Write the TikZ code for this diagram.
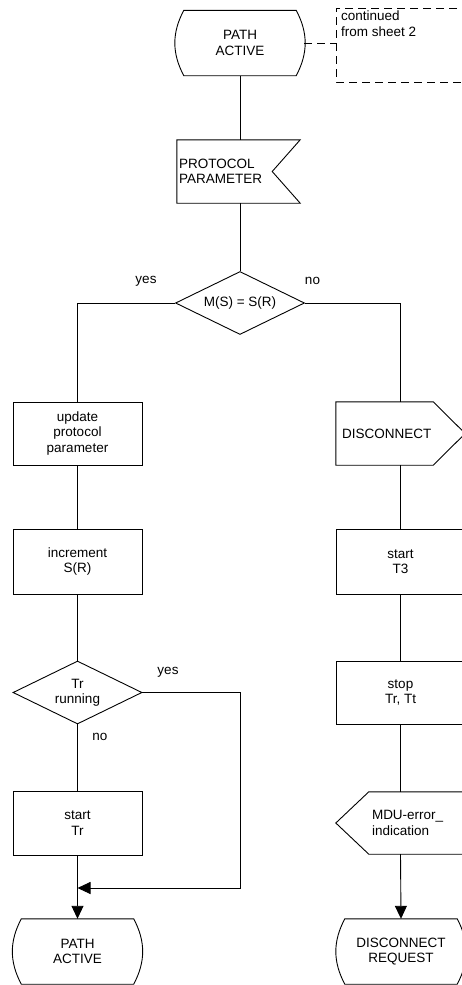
\documentclass[tikz,border=0pt]{standalone}
\usepackage{fontspec}
\setmainfont{Liberation Sans}
\usetikzlibrary{shapes.geometric,arrows.meta,calc}
\newcommand\lbl{\fontsize{13.5pt}{15.5pt}\selectfont}
\newcommand\drawstate[1]{%
  \draw[ln] ($(#1.north west)+(8,0)$) -- ($(#1.north east)+(-8,0)$)
    to[bend left=28] ($(#1.south east)+(-8,0)$) -- ($(#1.south west)+(8,0)$)
    to[bend left=28] ($(#1.north west)+(8,0)$) -- cycle;}
\tikzset{
  ln/.style={line width=0.9pt, draw=black},
  txt/.style={font=\lbl, align=center, inner sep=0pt},
  boxnode/.style={txt, draw, line width=0.9pt, rectangle, minimum width=129pt, minimum height=64pt},
  statenode/.style={txt, minimum width=128pt, minimum height=65pt},
  decnode/.style={txt, draw, line width=0.9pt, diamond, aspect=2, minimum width=129pt, minimum height=63pt},
  arr/.style={ln, -{Triangle[length=13pt,width=12pt]}},
  cmtline/.style={line width=0.9pt, dash pattern=on 8pt off 5pt},
}
\begin{document}
\begin{tikzpicture}[x=1pt,y=-1pt]
\useasboundingbox (0,0) rectangle (462,985);
% nodes
\node[statenode] (top) at (240,43) {PATH\\ACTIVE};
\node[txt, align=left, anchor=north west, inner xsep=5pt, inner ysep=3pt] (cmt) at (336,8) {continued\\from sheet 2};
\node[txt, align=left, text width=119pt, inner xsep=2pt, minimum height=63pt] (proto) at (238.5,171.5) {PROTOCOL\\PARAMETER};
\node[decnode] (dec1) at (240,303) {M(S) = S(R)};
\node[txt] (y1) at (146,281) {yes};
\node[txt] (n1) at (312.5,281) {no};
\node[boxnode, minimum height=63pt] (upd) at (77.5,433.5) {update\\protocol\\parameter};
\node[txt, align=left, text width=85pt, inner xsep=6pt, minimum height=63pt] (disc) at (384.5,433.5) {DISCONNECT};
\node[boxnode, minimum height=65pt] (inc) at (77.5,561.5) {increment\\S(R)};
\node[boxnode, minimum height=65pt] (t3) at (400.5,561.5) {start\\T3};
\node[decnode] (dec2) at (77.5,692.5) {Tr\\running};
\node[boxnode, minimum height=63pt] (stop) at (400.5,692.5) {stop\\Tr, Tt};
\node[txt] (y2) at (168,672) {yes};
\node[txt] (n2) at (100,737) {no};
\node[boxnode, minimum height=64pt] (str) at (77.5,823) {start\\Tr};
\node[txt, align=left, text width=90pt, inner xsep=3pt, minimum height=62pt] (mdu) at (417,823) {MDU-error\_\\indication};
\node[statenode] (end1) at (77.5,951.5) {PATH\\ACTIVE};
\node[statenode] (end2) at (401,951.5) {DISCONNECT\\REQUEST};
\coordinate (jr) at (240,888);
\coordinate (mg) at (77.5,888);
% symbol outlines
\drawstate{top}
\drawstate{end1}
\drawstate{end2}
\draw[ln] (proto.north west) -- (proto.north east) -- ($(proto.east)+(-28,0)$) -- (proto.south east) -- (proto.south west) -- cycle;
\draw[ln] (disc.north west) -- (disc.north east) -- ($(disc.east)+(32,0)$) -- (disc.south east) -- (disc.south west) -- cycle;
\draw[ln] (mdu.north east) -- (mdu.north west) -- ($(mdu.west)+(-33,0)$) -- (mdu.south west) -- (mdu.south east) -- cycle;
\draw[cmtline] ($(cmt.north west)+(134,0)$) -- (cmt.north west) -- ++(0,74) -- ++(134,0);
% connectors
\draw[cmtline] (top.east) -- (top.east -| cmt.west);
\draw[ln] (top.south) -- (top.south |- proto.north);
\draw[ln] (dec1 |- proto.south) -- (dec1.north);
\draw[ln] (dec1.west) -| (upd.north);
\draw[ln] (dec1.east) -| (t3 |- disc.north);
\draw[ln] (upd.south) -- (inc.north);
\draw[ln] (inc.south) -- (dec2.north);
\draw[ln] (dec2.south) -- (str.north);
\draw[arr] (str.south) -- (end1.north);
\draw[arr] (dec2.east) -| (jr) -- (mg);
\draw[ln] (t3 |- disc.south) -- (t3.north);
\draw[ln] (t3.south) -- (stop.north);
\draw[ln] (stop.south) -- (stop.south |- mdu.north);
\draw[arr] (stop.south |- mdu.south) -- (end2.north);
\end{tikzpicture}
\end{document}
